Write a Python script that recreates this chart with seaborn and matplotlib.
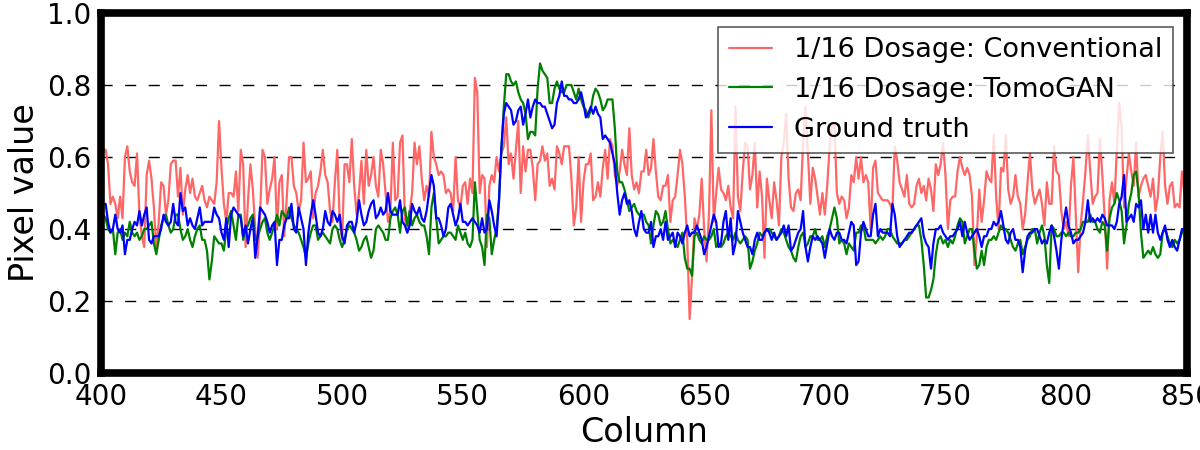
import numpy as np
import pandas as pd
import matplotlib
matplotlib.use("Agg")
import matplotlib.pyplot as plt
import seaborn as sns

# ---------------- data ----------------
conventional = [
    0.62,0.62,0.62,0.58,0.47,0.49,0.47,0.43,0.49,0.43, 0.60,0.63,0.56,0.53,0.52,0.61,0.44,0.38,0.35,0.55,
    0.59,0.54,0.46,0.34,0.42,0.53,0.52,0.44,0.48,0.58, 0.59,0.59,0.49,0.57,0.44,0.51,0.55,
    0.50,0.54,0.49,0.48,0.50,0.52,0.48,0.46,0.49,0.48, 0.47,0.53,0.70,0.57,0.47,0.42,0.50,0.50,0.49,0.56,
    0.45,0.62,0.58,0.35,0.48,0.58,0.51,0.40,0.32,0.44, 0.62,0.60,0.47,0.51,0.54,0.60,0.40,0.53,0.55,0.38,
    0.48,0.60,0.60,0.52,0.50,0.45,0.48,0.64,0.53,0.54, 0.56,0.43,0.50,0.52,0.56,0.62,0.55,0.53,0.45,0.42,
    0.53,0.62,0.42,0.37,0.58,0.58,0.53,0.65,0.52,0.44, 0.50,0.59,0.47,0.62,0.52,0.55,0.60,0.52,0.49,
    0.62,0.58,0.50,0.42,0.45,0.64,0.48,0.49,0.64,0.66, 0.43,0.39,0.45,0.50,0.64,0.58,0.63,0.54,0.48,0.52,
    0.49,0.67,0.60,0.58,0.55,0.56,0.55,0.50,0.51,0.50, 0.45,0.60,0.48,0.46,0.52,0.53,0.47,0.54,0.50,
    0.82,0.78,0.50,0.55,0.54,0.35,0.52,0.55,0.53,0.60, 0.56,0.61,0.63,0.71,0.58,0.61,0.54,0.62,0.70,0.50,
    0.63,0.56,0.62,0.62,0.57,0.48,0.58,0.59,0.63,0.59, 0.61,0.52,0.54,0.51,0.63,0.61,0.58,0.63,0.63,0.63,
    0.54,0.41,0.46,0.60,0.42,0.53,0.58,0.58,0.61,0.48, 0.49,0.53,0.49,0.57,0.62,0.54,0.65,0.63,0.55,0.52,
    0.56,0.62,0.58,0.55,0.68,0.55,0.51,0.53,0.50,0.56, 0.56,0.62,0.55,0.57,0.65,0.56,0.49,0.48,0.52,
    0.52,0.55,0.42,0.48,0.49,0.55,0.62,0.58,0.49,0.37, 0.15,0.27,0.43,0.40,0.44,0.54,0.40,0.31,0.44,0.73,
    0.42,0.50,0.57,0.51,0.50,0.48,0.52,0.46,0.43,0.74, 0.49,0.45,0.56,0.64,0.63,0.51,0.55,0.64,0.46,0.56,
    0.49,0.32,0.54,0.48,0.43,0.53,0.48,0.41,0.60,0.64, 0.72,0.54,0.46,0.45,0.50,0.51,0.48,0.64,0.74,0.61,
    0.47,0.57,0.54,0.49,0.44,0.50,0.44,0.52,0.63,0.69, 0.69,0.50,0.47,0.49,0.48,0.43,0.46,0.55,0.53,
    0.60,0.54,0.60,0.53,0.55,0.53,0.40,0.57,0.59,0.50, 0.49,0.48,0.48,0.48,0.47,0.45,0.63,0.59,0.53,0.51,
    0.49,0.55,0.47,0.46,0.47,0.52,0.54,0.50,0.52,0.48, 0.54,0.51,0.45,0.58,0.55,0.58,0.64,0.55,0.40,
    0.48,0.49,0.49,0.56,0.60,0.57,0.55,0.57,0.55,0.49, 0.30,0.38,0.51,0.42,0.48,0.56,0.54,0.53,0.66,0.49,
    0.40,0.57,0.56,0.66,0.51,0.47,0.49,0.55,0.49,0.47, 0.40,0.44,0.53,0.61,0.51,0.47,0.49,0.51,0.47,0.41,
    0.53,0.47,0.47,0.63,0.56,0.55,0.45,0.40,0.42,0.38, 0.52,0.60,0.44,0.28,0.41,0.48,0.56,0.66,0.56,0.47,
    0.49,0.50,0.65,0.55,0.43,0.29,0.48,0.53,0.47,0.62, 0.75,0.68,0.46,0.54,0.61,0.56,0.52,0.64,0.49,0.52,0.54,
    0.55,0.52,0.49,0.54,0.45,0.49,0.60,0.67,0.52,0.47, 0.52,0.53,0.46,0.47,0.46,0.56,0.50,0.48,
]

tomogan = [
    0.45,0.44,0.43,0.40,0.39,0.40,0.33,0.39,0.40,0.37, 0.39,0.38,0.42,0.39,0.38,0.39,0.37,0.38,0.40,0.40,
    0.41,0.42,0.36,0.33,0.37,0.41,0.43,0.44,0.41,0.39, 0.40,0.44,0.44,0.40,0.37,0.38,0.40,
    0.37,0.35,0.38,0.40,0.41,0.37,0.37,0.34,0.26,0.31, 0.38,0.37,0.36,0.36,0.34,0.40,0.43,0.45,0.41,0.37,
    0.44,0.44,0.37,0.40,0.41,0.43,0.44,0.37,0.38,0.40, 0.42,0.43,0.39,0.37,0.39,0.41,0.44,0.41,0.45,0.44,
    0.43,0.46,0.43,0.41,0.40,0.39,0.37,0.35,0.32,0.36, 0.39,0.41,0.41,0.37,0.38,0.39,0.38,0.37,0.36,0.40,
    0.41,0.40,0.37,0.35,0.37,0.40,0.41,0.40,0.39,0.37, 0.34,0.35,0.37,0.38,0.35,0.32,0.34,0.40,0.41,
    0.40,0.39,0.37,0.37,0.43,0.45,0.46,0.44,0.39,0.45, 0.46,0.41,0.45,0.41,0.43,0.44,0.42,0.41,0.41,0.38,
    0.33,0.46,0.50,0.43,0.36,0.37,0.38,0.38,0.39,0.39, 0.38,0.37,0.41,0.39,0.37,0.39,0.36,0.35,0.37,
    0.53,0.45,0.37,0.35,0.30,0.44,0.43,0.33,0.37,0.40, 0.48,0.62,0.74,0.83,0.83,0.81,0.80,0.81,0.78,0.76,
    0.75,0.72,0.65,0.67,0.67,0.66,0.79,0.86,0.84,0.83, 0.82,0.75,0.75,0.79,0.81,0.79,0.78,0.78,0.80,0.80,
    0.80,0.78,0.76,0.79,0.76,0.74,0.73,0.71,0.73,0.77, 0.79,0.78,0.76,0.73,0.74,0.76,0.76,0.76,0.68,0.56,
    0.53,0.53,0.51,0.48,0.45,0.46,0.47,0.45,0.44,0.44, 0.44,0.42,0.41,0.36,0.41,0.45,0.44,0.41,0.42,
    0.45,0.40,0.36,0.37,0.36,0.35,0.37,0.39,0.32,0.29, 0.29,0.27,0.38,0.39,0.37,0.36,0.38,0.37,0.37,0.38,
    0.40,0.35,0.36,0.35,0.36,0.38,0.39,0.38,0.37,0.39, 0.37,0.36,0.37,0.38,0.37,0.29,0.31,0.34,0.36,0.39,
    0.38,0.39,0.40,0.40,0.39,0.38,0.37,0.38,0.40,0.39, 0.37,0.35,0.34,0.32,0.31,0.35,0.38,0.39,0.35,0.36,
    0.38,0.38,0.40,0.37,0.37,0.38,0.35,0.38,0.40,0.43, 0.46,0.43,0.36,0.37,0.36,0.33,0.36,0.35,0.34,
    0.39,0.39,0.41,0.41,0.37,0.37,0.37,0.37,0.36,0.37, 0.38,0.37,0.38,0.40,0.40,0.38,0.37,0.36,0.36,0.36,
    0.37,0.37,0.38,0.39,0.40,0.41,0.41,0.37,0.30,0.21, 0.21,0.23,0.26,0.33,0.37,0.38,0.36,0.37,0.35,
    0.37,0.36,0.38,0.41,0.43,0.42,0.36,0.38,0.40,0.40, 0.34,0.29,0.30,0.34,0.30,0.35,0.37,0.37,0.38,0.37,
    0.39,0.41,0.40,0.40,0.39,0.37,0.35,0.34,0.36,0.37, 0.33,0.35,0.37,0.38,0.40,0.40,0.36,0.39,0.41,0.38,
    0.30,0.25,0.41,0.40,0.38,0.38,0.39,0.39,0.38,0.39, 0.38,0.38,0.39,0.39,0.40,0.42,0.42,0.42,0.44,0.42,
    0.42,0.40,0.39,0.42,0.41,0.34,0.43,0.46,0.47,0.50, 0.48,0.45,0.36,0.41,0.47,0.50,0.55,0.56,0.50,0.39,0.32,
    0.33,0.34,0.33,0.35,0.33,0.32,0.33,0.39,0.40,0.38, 0.36,0.35,0.37,0.36,0.37,0.39,0.40,0.40,
]

ground_truth = [
    0.46,0.47,0.47,0.42,0.39,0.40,0.44,0.40,0.39,0.41, 0.33,0.37,0.37,0.40,0.42,0.41,0.45,0.41,0.44,0.46,
    0.37,0.36,0.38,0.38,0.38,0.40,0.44,0.42,0.41,0.42, 0.47,0.42,0.41,0.50,0.45,0.46,0.41,
    0.43,0.41,0.40,0.43,0.46,0.41,0.42,0.42,0.42,0.42, 0.46,0.44,0.43,0.39,0.37,0.43,0.35,0.44,0.46,0.45,
    0.44,0.43,0.38,0.41,0.36,0.40,0.43,0.32,0.38,0.46, 0.45,0.44,0.42,0.39,0.41,0.42,0.30,0.37,0.37,0.41,
    0.43,0.43,0.47,0.40,0.39,0.46,0.43,0.40,0.30,0.39, 0.44,0.48,0.44,0.39,0.38,0.40,0.45,0.42,0.41,0.45,
    0.44,0.42,0.44,0.38,0.36,0.41,0.42,0.42,0.39,0.42, 0.48,0.44,0.41,0.42,0.45,0.47,0.48,0.43,0.44,
    0.46,0.44,0.45,0.50,0.45,0.44,0.44,0.44,0.48,0.42, 0.41,0.39,0.41,0.47,0.45,0.44,0.46,0.43,0.42,0.45,
    0.50,0.55,0.52,0.43,0.43,0.41,0.38,0.40,0.46,0.47, 0.44,0.41,0.43,0.47,0.42,0.42,0.41,0.42,0.43,
    0.42,0.41,0.39,0.43,0.39,0.40,0.48,0.45,0.41,0.38, 0.48,0.63,0.72,0.75,0.74,0.73,0.69,0.70,0.73,0.74,
    0.69,0.72,0.76,0.71,0.74,0.76,0.75,0.75,0.74,0.74, 0.72,0.70,0.68,0.69,0.75,0.77,0.81,0.77,0.77,0.76,
    0.76,0.75,0.75,0.76,0.78,0.75,0.71,0.72,0.74,0.72, 0.74,0.72,0.71,0.65,0.66,0.65,0.64,0.61,0.58,0.50,
    0.44,0.48,0.50,0.47,0.48,0.45,0.40,0.38,0.42,0.45, 0.40,0.39,0.39,0.42,0.35,0.38,0.38,0.40,0.37,
    0.42,0.37,0.38,0.39,0.35,0.39,0.38,0.36,0.39,0.41, 0.38,0.39,0.39,0.41,0.39,0.37,0.33,0.35,0.38,0.41,
    0.44,0.42,0.35,0.36,0.42,0.45,0.37,0.43,0.33,0.36, 0.45,0.42,0.39,0.37,0.35,0.35,0.33,0.37,0.39,0.37,
    0.37,0.39,0.40,0.39,0.37,0.39,0.37,0.38,0.39,0.41, 0.38,0.41,0.34,0.35,0.37,0.39,0.40,0.45,0.35,0.31,
    0.35,0.38,0.37,0.38,0.37,0.36,0.32,0.36,0.40,0.38, 0.37,0.39,0.39,0.37,0.37,0.36,0.39,0.42,0.41,
    0.30,0.31,0.39,0.42,0.40,0.38,0.38,0.44,0.47,0.38, 0.40,0.39,0.39,0.39,0.38,0.47,0.44,0.38,0.35,0.36,
    0.37,0.38,0.39,0.39,0.40,0.41,0.42,0.43,0.38,0.36, 0.35,0.29,0.36,0.40,0.40,0.41,0.39,0.38,0.37,
    0.38,0.38,0.39,0.40,0.42,0.38,0.42,0.39,0.37,0.38, 0.39,0.40,0.38,0.35,0.38,0.38,0.40,0.40,0.42,0.41,
    0.42,0.45,0.41,0.37,0.36,0.39,0.40,0.37,0.37,0.35, 0.28,0.34,0.38,0.39,0.39,0.40,0.40,0.38,0.36,0.37,
    0.36,0.39,0.41,0.38,0.34,0.29,0.37,0.42,0.46,0.41, 0.39,0.36,0.37,0.37,0.38,0.39,0.42,0.48,0.42,0.43,
    0.42,0.43,0.42,0.44,0.43,0.41,0.41,0.41,0.40,0.42, 0.47,0.49,0.55,0.42,0.43,0.44,0.42,0.47,0.46,0.48,0.40,
    0.44,0.39,0.44,0.39,0.44,0.39,0.37,0.39,0.41,0.37, 0.35,0.37,0.35,0.34,0.37,0.40,0.40,0.39,
]

series_labels = ["1/16 Dosage: Conventional", "1/16 Dosage: TomoGAN", "Ground truth"]
series_colors = ["#ff6666", "#008000", "#0000ff"]
x_ticks = [400, 450, 500, 550, 600, 650, 700, 750, 800, 850]
y_ticks = [0.0, 0.2, 0.4, 0.6, 0.8, 1.0]

# ---------------- plotting ----------------
sns.set_style("white")
plt.rcParams['font.family'] = ['DejaVu Sans']
plt.rcParams.update({"text.color": "black", "axes.labelcolor": "black",
                     "xtick.color": "black", "ytick.color": "black"})

fig = plt.figure(figsize=(12, 4.5), dpi=100)
ax = fig.add_axes([0.084, 0.171, 0.905, 0.80])

frames = []
for lab, vals in zip(series_labels, [conventional, tomogan, ground_truth]):
    frames.append(pd.DataFrame({"Column": np.arange(400, 400 + len(vals)),
                                "Pixel value": vals, "series": lab}))
df = pd.concat(frames, ignore_index=True)

sns.lineplot(data=df, x="Column", y="Pixel value", hue="series",
             hue_order=series_labels, palette=series_colors,
             linewidth=1.6, ax=ax, estimator=None, sort=False)

ax.set_xlim(400, 850)
ax.set_ylim(0, 1)
ax.set_xticks(x_ticks)
ax.set_yticks(y_ticks)
ax.set_yticklabels([f"{v:.1f}" for v in y_ticks])
ax.tick_params(labelsize=20, length=0, pad=7, colors="black")
ax.set_xlabel("Column", fontsize=24, color="black")
ax.set_ylabel("Pixel value", fontsize=24, color="black")

ax.yaxis.grid(True, color="black", linestyle=(0, (8, 9)), linewidth=1.0)
ax.xaxis.grid(False)
ax.set_axisbelow(True)
for s in ax.spines.values():
    s.set_visible(True)
    s.set_linewidth(5.5)
    s.set_color("black")

leg = ax.legend(loc="upper right", fontsize=19.5, frameon=True, framealpha=0.8,
                fancybox=False, edgecolor="0.2", handlelength=1.6,
                borderaxespad=0.5)
leg.get_frame().set_linewidth(1.2)
for t in leg.get_texts():
    t.set_color("black")

fig.savefig("out.png", dpi=100)
